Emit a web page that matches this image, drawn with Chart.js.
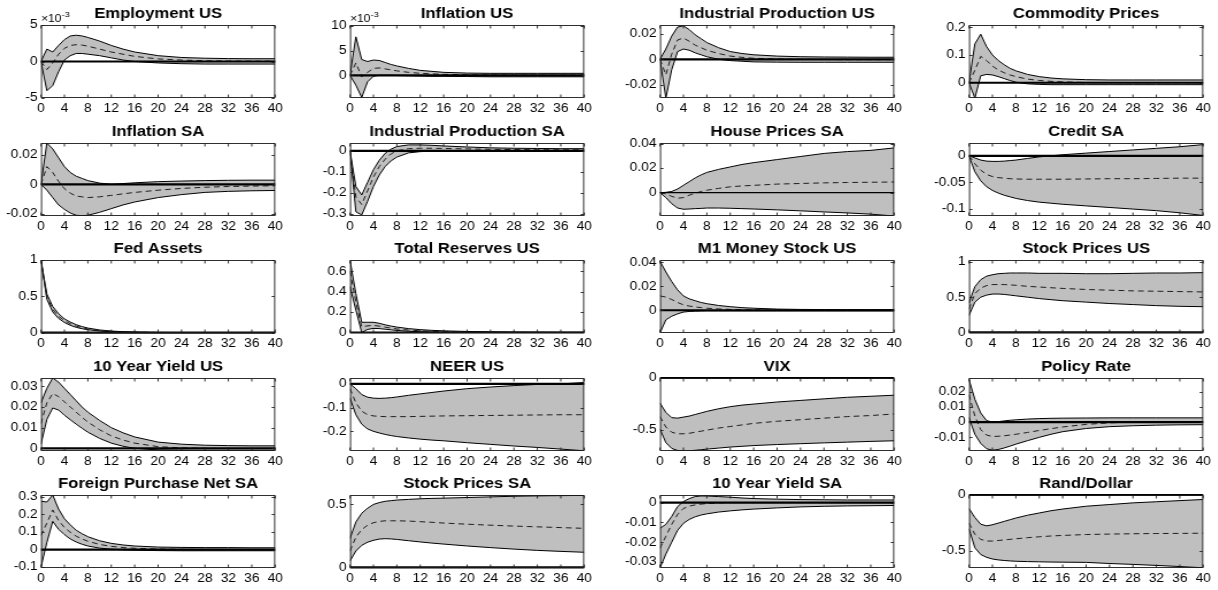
<!DOCTYPE html>
<html>
<head>
<meta charset="utf-8">
<script src="https://cdn.jsdelivr.net/npm/chart.js@4.4.1/dist/chart.umd.min.js"></script>
<style>
  html, body { margin: 0; padding: 0; background: #fff; }
  #grid { position: relative; width: 1218px; height: 590px; overflow: hidden; }
  #grid canvas { position: absolute; transform-origin: 0 0; }
</style>
</head>
<body>
<div id="grid"></div>
<script>
// horizons (quarters after the shock)
const horizons = [0, 1, 2, 3, 4, 5, 6, 7, 8, 10, 12, 14, 16, 20, 24, 28, 32, 36, 40];

const titles = [
  'Employment US', 'Inflation US', 'Industrial Production US', 'Commodity Prices',
  'Inflation SA', 'Industrial Production SA', 'House Prices SA', 'Credit SA',
  'Fed Assets', 'Total Reserves US', 'M1 Money Stock US', 'Stock Prices US',
  '10 Year Yield US', 'NEER US', 'VIX', 'Policy Rate',
  'Foreign Purchase Net SA', 'Stock Prices SA', '10 Year Yield SA', 'Rand/Dollar'
];

// axis limits and ticks (first two panels are in units of 10^-3)
const yMin = [-5, -4.6, -0.030, -0.055, -0.0215, -0.31, -0.019, -0.113, -0.005, -0.005,
              -0.019, -0.01, -0.0013, -0.283, -0.70, -0.019, -0.105, -0.005, -0.033, -0.65];
const yMax = [5, 10.2, 0.0266, 0.208, 0.028, 0.037, 0.0405, 0.024, 1.0, 0.71,
              0.042, 1.03, 0.034, 0.025, 0, 0.029, 0.31, 0.575, 0.0038, 0];
const yExponent = [-3, -3, 0, 0, 0, 0, 0, 0, 0, 0, 0, 0, 0, 0, 0, 0, 0, 0, 0, 0];
const yTicks = [
  [-5, 0, 5], [0, 5, 10], [-0.02, 0, 0.02], [0, 0.1, 0.2],
  [-0.02, 0, 0.02], [-0.3, -0.2, -0.1, 0], [0, 0.02, 0.04], [-0.1, -0.05, 0],
  [0, 0.5, 1], [0, 0.2, 0.4, 0.6], [0, 0.02, 0.04], [0, 0.5, 1],
  [0, 0.01, 0.02, 0.03], [-0.2, -0.1, 0], [-0.5, 0], [-0.01, 0, 0.01, 0.02],
  [-0.1, 0, 0.1, 0.2, 0.3], [0, 0.5], [-0.03, -0.02, -0.01, 0], [-0.5, 0]
];
const xTicks = [0, 4, 8, 12, 16, 20, 24, 28, 32, 36, 40];

// upper error band, one row per panel
const upperBand = [
  [0, 1.7, 1.3, 2.2, 3.0, 3.5, 3.6, 3.5, 3.3, 2.8, 2.2, 1.7, 1.3, 0.8, 0.55, 0.45, 0.4, 0.38, 0.38],
  [0, 7.8, 3.2, 2.8, 3.1, 3.0, 2.6, 2.2, 1.9, 1.4, 1.0, 0.8, 0.6, 0.45, 0.4, 0.4, 0.4, 0.4, 0.4],
  [0, 0.008, 0.018, 0.025, 0.026, 0.023, 0.019, 0.016, 0.013, 0.009, 0.006, 0.0045, 0.0035, 0.0025, 0.002, 0.0018, 0.0017, 0.0016, 0.0016],
  [0, 0.14, 0.175, 0.13, 0.10, 0.08, 0.065, 0.052, 0.043, 0.03, 0.022, 0.017, 0.014, 0.011, 0.01, 0.01, 0.01, 0.01, 0.01],
  [0, 0.028, 0.024, 0.018, 0.012, 0.008, 0.0055, 0.004, 0.0025, 0.0008, 0, 0.0005, 0.001, 0.0018, 0.0022, 0.0025, 0.0027, 0.0028, 0.0028],
  [0, -0.17, -0.21, -0.15, -0.09, -0.045, -0.012, 0.008, 0.02, 0.028, 0.028, 0.026, 0.023, 0.018, 0.014, 0.012, 0.011, 0.01, 0.01],
  [0, 0.0003, 0.001, 0.003, 0.006, 0.009, 0.012, 0.0145, 0.0165, 0.019, 0.021, 0.023, 0.0245, 0.027, 0.0295, 0.032, 0.0335, 0.0345, 0.0365],
  [0, -0.004, -0.008, -0.01, -0.0105, -0.0105, -0.01, -0.009, -0.008, -0.005, -0.002, 0, 0.002, 0.005, 0.008, 0.011, 0.014, 0.017, 0.021],
  [1, 0.53, 0.36, 0.26, 0.19, 0.145, 0.11, 0.083, 0.063, 0.037, 0.022, 0.013, 0.008, 0.003, 0.001, 0.0005, 0.0003, 0.0002, 0.0001],
  [0.71, 0.38, 0.1, 0.1, 0.1, 0.09, 0.075, 0.063, 0.053, 0.038, 0.028, 0.021, 0.016, 0.01, 0.007, 0.005, 0.004, 0.003, 0.003],
  [0.041, 0.032, 0.024, 0.017, 0.012, 0.0095, 0.008, 0.0065, 0.0055, 0.004, 0.003, 0.0022, 0.0017, 0.001, 0.0007, 0.0006, 0.0005, 0.0005, 0.0005],
  [0.42, 0.65, 0.75, 0.8, 0.82, 0.835, 0.84, 0.845, 0.845, 0.845, 0.84, 0.84, 0.84, 0.835, 0.835, 0.84, 0.845, 0.845, 0.85],
  [0.022, 0.029, 0.034, 0.032, 0.029, 0.026, 0.023, 0.02, 0.0175, 0.0135, 0.01, 0.0075, 0.0055, 0.003, 0.002, 0.0015, 0.0013, 0.0012, 0.0012],
  [0, -0.02, -0.045, -0.056, -0.06, -0.061, -0.06, -0.058, -0.055, -0.048, -0.042, -0.036, -0.03, -0.02, -0.013, -0.007, -0.002, 0, 0.006],
  [-0.24, -0.33, -0.38, -0.385, -0.375, -0.365, -0.35, -0.335, -0.32, -0.295, -0.275, -0.26, -0.25, -0.23, -0.215, -0.2, -0.185, -0.175, -0.165],
  [0.028, 0.015, 0.006, 0.001, 0, 0.0003, 0.0008, 0.0012, 0.0015, 0.002, 0.0023, 0.0025, 0.0026, 0.0027, 0.0028, 0.0028, 0.0028, 0.0028, 0.0028],
  [0.275, 0.27, 0.31, 0.23, 0.175, 0.14, 0.11, 0.09, 0.073, 0.05, 0.035, 0.026, 0.02, 0.014, 0.012, 0.011, 0.011, 0.01, 0.01],
  [0.23, 0.36, 0.43, 0.47, 0.5, 0.515, 0.525, 0.53, 0.535, 0.54, 0.545, 0.548, 0.55, 0.555, 0.56, 0.565, 0.568, 0.57, 0.572],
  [-0.013, -0.011, -0.007, -0.002, 0.0005, 0.002, 0.003, 0.0033, 0.0033, 0.003, 0.0027, 0.0023, 0.002, 0.0017, 0.0015, 0.0014, 0.0013, 0.0013, 0.0013],
  [-0.12, -0.2, -0.26, -0.275, -0.265, -0.25, -0.235, -0.22, -0.205, -0.18, -0.16, -0.14, -0.125, -0.1, -0.085, -0.07, -0.06, -0.05, -0.04]
];

// median response
const medianResp = [
  [0, -1.1, -0.2, 1.0, 1.8, 2.2, 2.3, 2.25, 2.1, 1.7, 1.3, 1.0, 0.7, 0.35, 0.2, 0.1, 0.07, 0.05, 0.05],
  [0, 2.5, -0.3, 0.6, 1.4, 1.5, 1.3, 1.1, 0.9, 0.6, 0.4, 0.3, 0.2, 0.1, 0.05, 0.03, 0.02, 0.02, 0.02],
  [0, -0.012, 0.004, 0.015, 0.0165, 0.014, 0.011, 0.009, 0.007, 0.0045, 0.0025, 0.0015, 0.0008, 0.0002, 0, -0.0002, -0.0003, -0.0003, -0.0003],
  [0, 0.045, 0.095, 0.08, 0.06, 0.046, 0.036, 0.028, 0.022, 0.013, 0.008, 0.005, 0.003, 0.001, 0.0005, 0.0003, 0.0002, 0.0002, 0.0002],
  [0, 0.012, 0.008, 0.002, -0.003, -0.006, -0.008, -0.0085, -0.009, -0.0085, -0.0075, -0.0065, -0.0055, -0.004, -0.0028, -0.002, -0.0015, -0.0012, -0.001],
  [0, -0.22, -0.255, -0.19, -0.125, -0.075, -0.04, -0.015, 0, 0.01, 0.012, 0.012, 0.011, 0.009, 0.007, 0.006, 0.005, 0.005, 0.005],
  [0, -0.001, -0.003, -0.0045, -0.004, -0.002, -0.0005, 0.001, 0.002, 0.0035, 0.0048, 0.0055, 0.006, 0.007, 0.0075, 0.008, 0.0083, 0.0085, 0.0087],
  [0, -0.015, -0.027, -0.035, -0.039, -0.041, -0.042, -0.043, -0.0435, -0.044, -0.044, -0.044, -0.044, -0.0435, -0.043, -0.043, -0.0425, -0.042, -0.042],
  [1, 0.49, 0.32, 0.225, 0.165, 0.122, 0.09, 0.068, 0.05, 0.029, 0.017, 0.01, 0.006, 0.002, 0.0008, 0.0003, 0.0001, 0, 0],
  [0.6, 0.3, 0.055, 0.065, 0.07, 0.062, 0.052, 0.043, 0.035, 0.024, 0.017, 0.012, 0.008, 0.004, 0.002, 0.001, 0.0005, 0.0003, 0.0003],
  [0.012, 0.011, 0.009, 0.0065, 0.0045, 0.0035, 0.0028, 0.0022, 0.0017, 0.0011, 0.0007, 0.0005, 0.0003, 0.0001, 0, 0, 0, 0, 0],
  [0.33, 0.55, 0.63, 0.665, 0.68, 0.68, 0.68, 0.675, 0.67, 0.655, 0.645, 0.635, 0.625, 0.61, 0.6, 0.59, 0.585, 0.58, 0.575],
  [0.012, 0.022, 0.0265, 0.025, 0.0225, 0.02, 0.0175, 0.015, 0.0127, 0.009, 0.006, 0.004, 0.0025, 0.0008, 0.0002, 0, -0.0001, -0.0001, -0.0001],
  [-0.02, -0.08, -0.115, -0.13, -0.135, -0.137, -0.138, -0.138, -0.138, -0.138, -0.137, -0.136, -0.135, -0.134, -0.133, -0.132, -0.131, -0.13, -0.13],
  [-0.37, -0.47, -0.52, -0.535, -0.535, -0.53, -0.52, -0.51, -0.5, -0.48, -0.465, -0.45, -0.435, -0.415, -0.4, -0.385, -0.37, -0.36, -0.345],
  [0.018, 0.004, -0.005, -0.0085, -0.0095, -0.0093, -0.009, -0.0085, -0.008, -0.0068, -0.0055, -0.0043, -0.0032, -0.0015, -0.0005, 0, 0.0002, 0.0003, 0.0003],
  [0.08, 0.15, 0.225, 0.165, 0.125, 0.098, 0.076, 0.06, 0.047, 0.029, 0.018, 0.011, 0.007, 0.003, 0.001, 0.0005, 0.0002, 0.0002, 0.0002],
  [0.13, 0.24, 0.3, 0.335, 0.355, 0.365, 0.37, 0.37, 0.37, 0.368, 0.363, 0.358, 0.352, 0.343, 0.335, 0.328, 0.322, 0.316, 0.31],
  [-0.023, -0.017, -0.011, -0.006, -0.003, -0.0018, -0.0012, -0.0008, -0.0005, -0.0002, 0, 0, 0, 0, 0, 0, 0, 0, 0],
  [-0.25, -0.35, -0.395, -0.41, -0.41, -0.405, -0.4, -0.395, -0.39, -0.38, -0.372, -0.365, -0.36, -0.352, -0.348, -0.345, -0.343, -0.342, -0.34]
];

// lower error band
const lowerBand = [
  [0, -4.0, -3.3, -1.4, 0.2, 0.8, 1.1, 1.1, 1.0, 0.8, 0.5, 0.2, 0, -0.2, -0.3, -0.35, -0.35, -0.35, -0.35],
  [0, -2.0, -4.5, -1.3, -0.2, 0, 0, 0, -0.05, -0.1, -0.15, -0.2, -0.2, -0.25, -0.3, -0.3, -0.3, -0.3, -0.3],
  [0, -0.030, -0.008, 0.006, 0.008, 0.007, 0.005, 0.0035, 0.002, 0, -0.001, -0.0015, -0.002, -0.0022, -0.0023, -0.0023, -0.0023, -0.0023, -0.0023],
  [0, -0.055, 0.025, 0.03, 0.028, 0.022, 0.015, 0.008, 0.002, -0.004, -0.006, -0.007, -0.007, -0.007, -0.007, -0.007, -0.007, -0.007, -0.007],
  [0, -0.004, -0.009, -0.014, -0.017, -0.0195, -0.021, -0.0213, -0.021, -0.019, -0.0165, -0.014, -0.012, -0.009, -0.007, -0.0055, -0.0048, -0.0044, -0.0042],
  [0, -0.29, -0.305, -0.24, -0.17, -0.115, -0.075, -0.048, -0.03, -0.01, -0.004, -0.002, -0.001, 0, 0, 0, 0, 0, 0],
  [0, -0.004, -0.009, -0.0125, -0.0135, -0.0133, -0.013, -0.0128, -0.0125, -0.0125, -0.0127, -0.013, -0.0133, -0.014, -0.0148, -0.0157, -0.0165, -0.0175, -0.019],
  [0, -0.03, -0.047, -0.058, -0.065, -0.07, -0.074, -0.077, -0.08, -0.084, -0.087, -0.089, -0.091, -0.094, -0.097, -0.1, -0.103, -0.107, -0.112],
  [1, 0.46, 0.285, 0.195, 0.14, 0.1, 0.073, 0.054, 0.04, 0.022, 0.012, 0.007, 0.004, 0.001, 0, 0, 0, 0, 0],
  [0.45, 0.22, 0, 0.03, 0.04, 0.038, 0.032, 0.026, 0.02, 0.012, 0.007, 0.004, 0.002, 0, 0, 0, 0, 0, 0],
  [-0.019, -0.008, -0.005, -0.003, -0.0015, -0.001, -0.0008, -0.0007, -0.0006, -0.0006, -0.0006, -0.0006, -0.0006, -0.0006, -0.0006, -0.0006, -0.0006, -0.0006, -0.0006],
  [0.24, 0.43, 0.5, 0.53, 0.545, 0.545, 0.54, 0.53, 0.52, 0.5, 0.48, 0.465, 0.45, 0.43, 0.41, 0.395, 0.38, 0.37, 0.365],
  [0.002, 0.014, 0.0195, 0.0185, 0.016, 0.0138, 0.0117, 0.0097, 0.0078, 0.0048, 0.0025, 0.001, 0, -0.0008, -0.001, -0.0011, -0.0012, -0.0012, -0.0012],
  [-0.06, -0.13, -0.17, -0.19, -0.2, -0.207, -0.213, -0.218, -0.222, -0.228, -0.233, -0.237, -0.24, -0.248, -0.255, -0.262, -0.268, -0.275, -0.282],
  [-0.49, -0.62, -0.675, -0.695, -0.7, -0.698, -0.693, -0.688, -0.682, -0.672, -0.662, -0.655, -0.648, -0.638, -0.63, -0.622, -0.615, -0.608, -0.602],
  [0.003, -0.008, -0.014, -0.0175, -0.0185, -0.018, -0.017, -0.0158, -0.0145, -0.0122, -0.01, -0.008, -0.0063, -0.0042, -0.003, -0.0024, -0.002, -0.0018, -0.0017],
  [-0.1, 0.04, 0.16, 0.115, 0.085, 0.06, 0.043, 0.03, 0.02, 0.008, 0.002, -0.002, -0.004, -0.006, -0.007, -0.007, -0.007, -0.007, -0.007],
  [0.05, 0.13, 0.175, 0.2, 0.215, 0.225, 0.228, 0.226, 0.222, 0.212, 0.202, 0.193, 0.185, 0.17, 0.157, 0.145, 0.135, 0.127, 0.12],
  [-0.033, -0.026, -0.02, -0.014, -0.0105, -0.0085, -0.0072, -0.0063, -0.0057, -0.0048, -0.0042, -0.0037, -0.0033, -0.0027, -0.0022, -0.0019, -0.0017, -0.0016, -0.0015],
  [-0.3, -0.47, -0.53, -0.555, -0.57, -0.578, -0.583, -0.587, -0.59, -0.593, -0.595, -0.597, -0.598, -0.6, -0.61, -0.618, -0.627, -0.637, -0.648]
];

Chart.defaults.font.family = '"Liberation Sans", Arial, Helvetica, sans-serif';
Chart.defaults.color = '#000';

// matlab-style box: frame, inward ticks on all four sides, exponent label
const boxTicks = {
  id: 'boxTicks',
  afterDraw(chart, args, opts) {
    const { ctx, chartArea: a } = chart;
    const xs = chart.scales.x, ys = chart.scales.y;
    const l = a.left + 0.45, r = a.right - 0.45;
    const t = Math.round(a.top) + 0.5, b = Math.round(a.bottom) - 0.5;
    ctx.save();
    ctx.strokeStyle = '#1a1a1a';
    ctx.lineWidth = 0.9;
    ctx.strokeRect(l, t, r - l, b - t);
    ctx.beginPath();
    xs.ticks.forEach(tk => {
      const px = xs.getPixelForValue(tk.value);
      ctx.moveTo(px, b); ctx.lineTo(px, b - 3);
      ctx.moveTo(px, t); ctx.lineTo(px, t + 3);
    });
    ys.ticks.forEach(tk => {
      const py = Math.round(ys.getPixelForValue(tk.value)) + 0.5;
      ctx.moveTo(l, py); ctx.lineTo(l + 2.6, py);
      ctx.moveTo(r, py); ctx.lineTo(r - 2.6, py);
    });
    ctx.stroke();
    if (opts.exponent) {
      ctx.fillStyle = '#000';
      ctx.textBaseline = 'alphabetic';
      ctx.font = '10.5px "Liberation Sans", Arial, sans-serif';
      ctx.fillText('\u00d710', a.left, a.top - 3);
      const w = ctx.measureText('\u00d710').width;
      ctx.font = '8px "Liberation Sans", Arial, sans-serif';
      ctx.fillText(String(opts.exponent), a.left + w, a.top - 8);
    }
    ctx.restore();
  }
};

const grid = document.getElementById('grid');
const colStep = 309.3, rowStep = 117.5;
// figure text is a little wide: canvases are drawn narrower and stretched sideways
const stretchX = 1.15;
const yAxisW = 41 / stretchX, plotW = 236 / stretchX, padR = 8;
const xAxisH = 19, titleH = 25, plotH = 73;

titles.forEach((title, i) => {
  const row = Math.floor(i / 4), col = i % 4;
  const canvas = document.createElement('canvas');
  canvas.width = Math.round(yAxisW + plotW + padR);
  canvas.height = titleH + plotH + xAxisH;
  canvas.style.left = Math.round(col * colStep) + 'px';
  canvas.style.top = Math.round(row * rowStep) + 'px';
  canvas.style.transform = 'scaleX(' + stretchX + ')';
  grid.appendChild(canvas);

  const pts = arr => horizons.map((h, k) => ({ x: h, y: arr[k] }));
  const thinZero = title === 'House Prices SA';

  new Chart(canvas, {
    type: 'line',
    data: {
      datasets: [
        { // zero line, drawn on top
          data: [{ x: 0, y: 0 }, { x: 40, y: 0 }],
          borderColor: '#000', borderWidth: thinZero ? 1.2 : 2.2, clip: false
        },
        {
          data: pts(medianResp[i]),
          borderColor: '#1e1e1e', borderWidth: 1, borderDash: [5, 3.5]
        },
        {
          data: pts(upperBand[i]),
          borderColor: '#000', borderWidth: 1,
          backgroundColor: 'rgb(191,191,191)', fill: '+1'
        },
        {
          data: pts(lowerBand[i]),
          borderColor: '#000', borderWidth: 1
        }
      ]
    },
    options: {
      responsive: false,
      animation: false,
      devicePixelRatio: 1,
      layout: { padding: { left: 0, right: canvas.width - (yAxisW + plotW), top: 0, bottom: 0 } },
      elements: { point: { radius: 0 }, line: { tension: 0 } },
      plugins: {
        legend: { display: false },
        tooltip: { enabled: false },
        filler: { drawTime: 'beforeDatasetsDraw' },
        title: {
          display: true,
          text: title,
          fullSize: false,
          color: '#000',
          font: { size: 14.5, weight: 'bold', lineHeight: 1.2 },
          padding: { top: 5, bottom: 2.6 }
        },
        boxTicks: { exponent: yExponent[i] }
      },
      scales: {
        x: {
          type: 'linear',
          min: 0, max: 40,
          grid: { display: false, drawTicks: false },
          border: { display: false },
          afterBuildTicks: s => { s.ticks = xTicks.map(v => ({ value: v })); },
          afterFit: s => { s.height = xAxisH; },
          ticks: { padding: 3, font: { size: 12 }, maxRotation: 0, autoSkip: false }
        },
        y: {
          min: yMin[i], max: yMax[i],
          grid: { display: false, drawTicks: false },
          border: { display: false },
          afterBuildTicks: s => { s.ticks = yTicks[i].map(v => ({ value: v })); },
          afterFit: s => { s.width = yAxisW; },
          ticks: { padding: 3, font: { size: 12 }, callback: v => String(v) }
        }
      }
    },
    plugins: [boxTicks]
  });
});
</script>
</body>
</html>
